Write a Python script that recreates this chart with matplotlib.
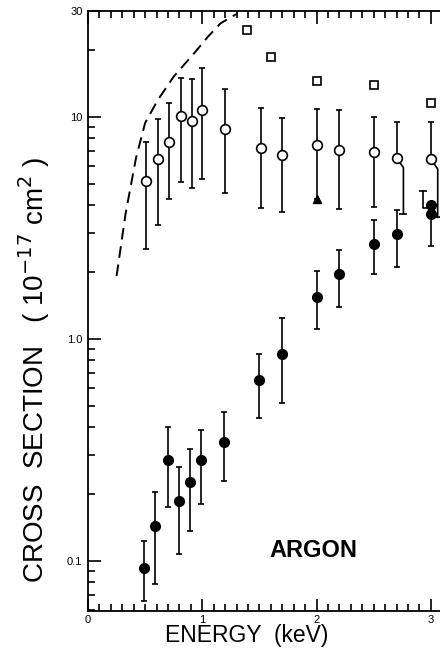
import matplotlib
matplotlib.use("Agg")
import matplotlib.pyplot as plt
import numpy as np
from matplotlib.ticker import LogLocator, FixedLocator, MultipleLocator, NullFormatter

plt.rcParams['font.family'] = ['Liberation Sans', 'DejaVu Sans']

# open circles: energy (keV), cross section, lower / upper error bar ends
open_x = [0.51, 0.61, 0.71, 0.81, 0.91, 1.00, 1.20, 1.51, 1.70, 2.00, 2.20, 2.50]
open_y = [5.15, 6.47, 7.69, 10.07, 9.62, 10.75, 8.83, 7.25, 6.72, 7.48, 7.13, 6.93]
open_lo = [2.54, 3.26, 4.26, 5.11, 4.77, 5.26, 4.56, 3.88, 3.72, 4.26, 3.86, 3.94]
open_hi = [7.74, 9.80, 11.5, 14.9, 14.8, 16.6, 13.4, 11.0, 9.87, 10.9, 10.7, 10.0]

# open circles whose lower bar is drawn shifted to the right
open_off_x = [2.70, 3.00]
open_off_y = [6.56, 6.47]
open_off_hi = [9.46, 9.46]
open_off_lo = [3.66, 3.53]
open_off_dx = [0.06, 0.06]

# open squares
sq_x = [1.39, 1.60, 2.00, 2.50, 3.00]
sq_y = [24.6, 18.7, 14.5, 13.9, 11.5]

# filled circles
fill_x = [0.49, 0.59, 0.70, 0.80, 0.89, 0.99, 1.19, 1.50, 1.70, 2.00, 2.20, 2.50, 2.70]
fill_y = [0.093, 0.144, 0.286, 0.186, 0.226, 0.285, 0.345, 0.652, 0.853, 1.55, 1.96, 2.67, 2.97]
fill_lo = [0.066, 0.079, 0.175, 0.108, 0.136, 0.181, 0.230, 0.442, 0.515, 1.11, 1.40, 1.96, 2.12]
fill_hi = [0.123, 0.205, 0.403, 0.266, 0.320, 0.389, 0.468, 0.853, 1.24, 2.02, 2.51, 3.44, 3.81]

# filled points at 3 keV (upper bar shifted left)
fill3_x = [3.00, 3.00]
fill3_y = [4.01, 3.66]
fill3_lo = 2.62
fill3_hi = 4.66
fill3_dx = -0.07

# filled triangle
tri_x = [2.00]
tri_y = [4.26]

# dashed curve
curve_x = [0.25, 0.33, 0.42, 0.50, 0.61, 0.75, 0.93, 1.05, 1.16, 1.31]
curve_y = [1.92, 3.70, 6.53, 9.40, 11.9, 15.2, 19.4, 23.0, 26.4, 29.3]

x_ticks = [0, 1, 2, 3]
y_ticks = [0.1, 1, 10, 30]
y_tick_labels = ['0.1', '1.0', '10', '30']

fig = plt.figure(figsize=(4.4, 6.55), dpi=100)
ax = fig.add_axes([0.2, 0.0676, 0.8, 0.9156])
ax.set_yscale('log')
ax.set_xlim(0, 3.08)
ax.set_ylim(0.0597, 30)

lw = 1.2
eb = dict(fmt='none', ecolor='black', elinewidth=lw, capsize=2.5, capthick=lw)

ax.plot(curve_x, curve_y, color='black', lw=1.4, ls=(0, (6, 3.5)))

ox, oy = np.array(open_x), np.array(open_y)
ax.errorbar(ox, oy, yerr=[oy - np.array(open_lo), np.array(open_hi) - oy], **eb)

fx, fy = np.array(fill_x), np.array(fill_y)
ax.errorbar(fx, fy, yerr=[fy - np.array(fill_lo), np.array(fill_hi) - fy], **eb)

# shifted bars for open circles
for x, y, hi, lo, dx in zip(open_off_x, open_off_y, open_off_hi, open_off_lo, open_off_dx):
    ax.errorbar([x], [y], yerr=[[0], [hi - y]], **eb)
    ax.plot([x, x + dx, x + dx], [y, y * 0.9, lo], color='black', lw=lw)
    ax.plot([x + dx], [lo], marker='_', ms=6, mew=lw, color='black')

# bars for filled points at 3 keV
ax.plot([fill3_x[0] + fill3_dx, fill3_x[0] + fill3_dx, fill3_x[0]],
        [fill3_hi, fill3_y[0] * 0.97, fill3_y[0] * 0.97], color='black', lw=lw)
ax.plot([fill3_x[0] + fill3_dx], [fill3_hi], marker='_', ms=6, mew=lw, color='black')
ax.errorbar([fill3_x[1]], [fill3_y[1]], yerr=[[fill3_y[1] - fill3_lo], [0]], **eb)

ax.plot(open_x + open_off_x, open_y + open_off_y, 'o', ms=7, mfc='white', mec='black', mew=1.2)
ax.plot(fill_x + fill3_x, fill_y + fill3_y, 'o', ms=7, color='black')
ax.plot(sq_x, sq_y, 's', ms=5.5, mfc='white', mec='black', mew=1.2)
ax.plot(tri_x, tri_y, '^', ms=6, color='black')

# ticks
ax.yaxis.set_major_locator(FixedLocator(y_ticks))
ax.set_yticklabels(y_tick_labels)
ax.yaxis.set_minor_locator(LogLocator(base=10, subs=(2, 3, 4, 5, 6, 7, 8, 9)))
ax.yaxis.set_minor_formatter(NullFormatter())
ax.xaxis.set_major_locator(FixedLocator(x_ticks))
ax.set_xticklabels([str(t) for t in x_ticks])
ax.xaxis.set_minor_locator(MultipleLocator(0.1))
ax.tick_params(which='both', direction='in', top=True, right=False, labelsize=8, width=1.2)
ax.tick_params(which='major', length=9)
ax.tick_params(which='minor', length=5)
ax.tick_params(axis='x', pad=3)
ax.tick_params(axis='y', pad=4)
ax.spines['right'].set_visible(False)
for s in ['left', 'top', 'bottom']:
    ax.spines[s].set_linewidth(1.3)

ax.set_xlabel('ENERGY  (keV)', fontsize=16.5)
ax.xaxis.set_label_coords(0.452, -0.022)
ax.set_ylabel('CROSS  SECTION   ( 10$^{-17}$ cm$^2$ )', fontsize=20)
ax.yaxis.set_label_coords(-0.102, 0.401)
ax.text(1.97, 0.112, 'ARGON', fontsize=17, fontweight='bold', ha='center', va='center')

fig.savefig('out.png', dpi=100)
